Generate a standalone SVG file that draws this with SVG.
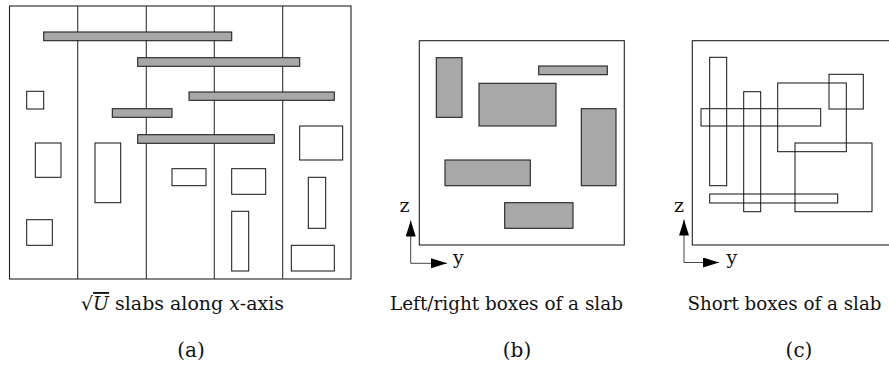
<svg xmlns="http://www.w3.org/2000/svg" width="889" height="367" viewBox="0 0 889 367">
<style>
.frame{fill:none;stroke:#222;stroke-width:1.1}
.div{stroke:#333;stroke-width:1.1}
.bar{fill:#a8a8a8;stroke:#222;stroke-width:1.1}
.box{fill:none;stroke:#111;stroke-width:1}
.ax{stroke:#444;stroke-width:1;fill:none}
.cap{font-family:"DejaVu Serif","Liberation Serif",serif;font-size:18.5px;fill:#111}
.sub{font-family:"DejaVu Serif","Liberation Serif",serif;font-size:20px;fill:#111}
.lbl{font-family:"DejaVu Serif","Liberation Serif",serif;font-size:19px;fill:#111}
</style>
<defs>
<marker id="arr" viewBox="0 0 16 10" refX="16" refY="5" markerWidth="16" markerHeight="10" markerUnits="userSpaceOnUse" orient="auto">
<path d="M0,0 L16,5 L0,10 z" fill="#000"/>
</marker>
</defs>
<rect width="889" height="367" fill="#fff"/>

<g id="panel-a">
<rect class="frame" x="9.5" y="6" width="341.5" height="273"/>
<line class="div" x1="77.7" y1="6" x2="77.7" y2="279"/>
<line class="div" x1="146.3" y1="6" x2="146.3" y2="279"/>
<line class="div" x1="214.3" y1="6" x2="214.3" y2="279"/>
<line class="div" x1="282.7" y1="6" x2="282.7" y2="279"/>
<g id="a-bar1"><rect class="bar" x="43.7" y="32" width="188" height="8.7"/></g>
<g id="a-bar2"><rect class="bar" x="137.7" y="57.7" width="162" height="8.6"/></g>
<g id="a-bar3"><rect class="bar" x="189" y="92" width="145.3" height="8.3"/></g>
<g id="a-bar4"><rect class="bar" x="112.3" y="108.7" width="59.7" height="8.6"/></g>
<g id="a-bar5"><rect class="bar" x="137.7" y="134.7" width="136.6" height="8.6"/></g>
<g id="a-box1"><rect class="box" x="26.7" y="91.3" width="17" height="17.7"/></g>
<g id="a-box2"><rect class="box" x="35.3" y="143" width="25.7" height="34.3"/></g>
<g id="a-box3"><rect class="box" x="26.7" y="219.7" width="25.6" height="25.6"/></g>
<g id="a-box4"><rect class="box" x="95" y="143" width="25.7" height="59.7"/></g>
<g id="a-box5"><rect class="box" x="172" y="168.7" width="34" height="17"/></g>
<g id="a-box6"><rect class="box" x="231.7" y="168.7" width="34" height="25.6"/></g>
<g id="a-box7"><rect class="box" x="231.7" y="211.3" width="17" height="59.7"/></g>
<g id="a-box8"><rect class="box" x="299.7" y="126" width="43" height="34"/></g>
<g id="a-box9"><rect class="box" x="308.3" y="177.3" width="17.4" height="51"/></g>
<g id="a-box10"><rect class="box" x="291.3" y="245.3" width="43" height="25.7"/></g>
</g>

<g id="panel-b">
<rect class="frame" x="419.3" y="40.7" width="205" height="204.3"/>
<g id="b-box1"><rect class="bar" x="436.3" y="57.7" width="25.7" height="59.6"/></g>
<g id="b-box2"><rect class="bar" x="538.7" y="66" width="68.6" height="8.7"/></g>
<g id="b-box3"><rect class="bar" x="479" y="83.3" width="77" height="42.7"/></g>
<g id="b-box4"><rect class="bar" x="581.3" y="108.7" width="34.7" height="77"/></g>
<g id="b-box5"><rect class="bar" x="445" y="160" width="85.3" height="25.7"/></g>
<g id="b-box6"><rect class="bar" x="504.7" y="202.7" width="68.3" height="25.6"/></g>
</g>

<g id="panel-c">
<rect class="frame" x="692.3" y="40.7" width="210" height="204.3"/>
<g id="c-box1"><rect class="box" x="709.7" y="57.3" width="17" height="128.4"/></g>
<g id="c-box2"><rect class="box" x="743.7" y="91.7" width="17" height="120"/></g>
<g id="c-box3"><rect class="box" x="701" y="108.7" width="119.7" height="17.3"/></g>
<g id="c-box4"><rect class="box" x="777.7" y="83" width="68.6" height="68.7"/></g>
<g id="c-box5"><rect class="box" x="829" y="74.3" width="34.3" height="34.7"/></g>
<g id="c-box6"><rect class="box" x="795" y="143" width="77" height="68.7"/></g>
<g id="c-box7"><rect class="box" x="709.7" y="194" width="128" height="9"/></g>
</g>

<g id="connectors">
<line class="ax" x1="410.7" y1="263.3" x2="410.7" y2="220.5" marker-end="url(#arr)"/>
<line class="ax" x1="410.7" y1="263.3" x2="447" y2="263.3" marker-end="url(#arr)"/>
<line class="ax" x1="684" y1="262.5" x2="684" y2="219.5" marker-end="url(#arr)"/>
<line class="ax" x1="684" y1="262.5" x2="719" y2="262.5" marker-end="url(#arr)"/>
</g>

<g id="labels">
<text class="lbl" x="404.5" y="211.5" text-anchor="middle">z</text>
<text class="lbl" x="453" y="264">y</text>
<text class="lbl" x="679" y="211.5" text-anchor="middle">z</text>
<text class="lbl" x="726.5" y="263.5">y</text>
<text class="cap" x="81" y="310" textLength="203" lengthAdjust="spacingAndGlyphs">√<tspan font-style="italic" text-decoration="overline">U</tspan> slabs along <tspan font-style="italic">x</tspan>-axis</text>
<text class="cap" x="390" y="310" textLength="233" lengthAdjust="spacingAndGlyphs">Left/right boxes of a slab</text>
<text class="cap" x="687.5" y="310" textLength="194" lengthAdjust="spacingAndGlyphs">Short boxes of a slab</text>
<text class="sub" x="191" y="357" text-anchor="middle">(a)</text>
<text class="sub" x="517" y="357" text-anchor="middle">(b)</text>
<text class="sub" x="799" y="357" text-anchor="middle">(c)</text>
</g>
</svg>
